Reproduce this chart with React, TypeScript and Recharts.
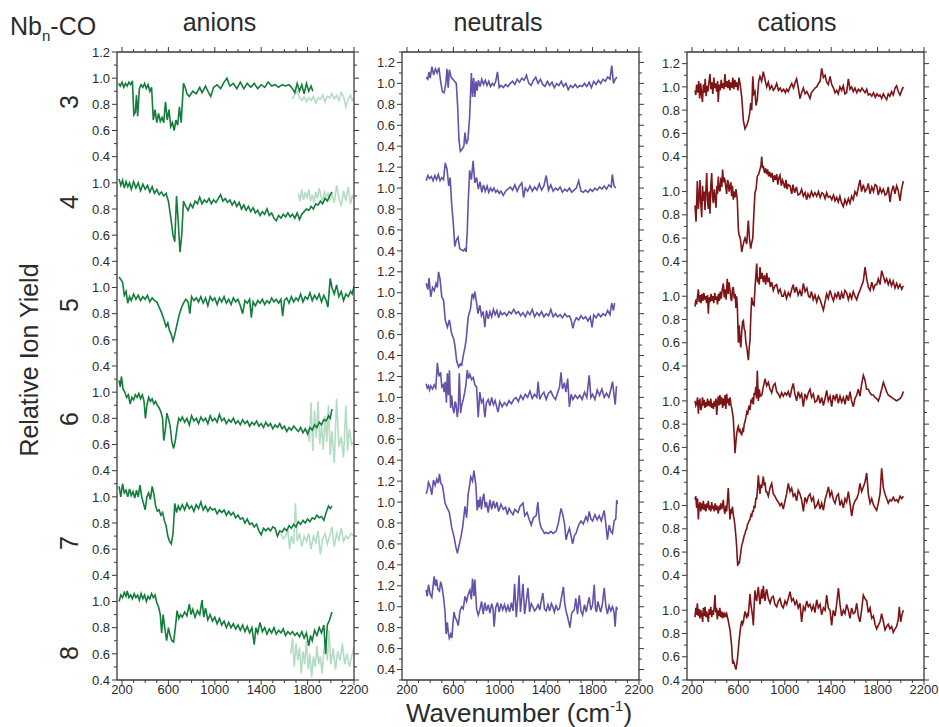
import React from 'react';
import { LineChart, Line, XAxis, YAxis } from 'recharts';

type Pt = [number, number];

// ---- anions (dark = measured, faint = high-wavenumber tail) ----
const anion3: Pt[] = [[170,0.96],[185,0.94],[200,0.97],[215,0.93],[230,0.96],[245,0.94],[260,0.97],[275,0.95],[290,0.98],[302,0.72],[315,0.74],[325,0.87],[335,0.71],[350,0.92],[365,0.95],[380,0.93],[395,0.96],[410,0.92],[425,0.95],[440,0.9],[455,0.93],[470,0.68],[485,0.76],[500,0.66],[515,0.73],[530,0.67],[545,0.7],[560,0.66],[575,0.82],[590,0.68],[605,0.76],[620,0.63],[635,0.66],[650,0.6],[665,0.68],[680,0.64],[695,0.78],[710,0.66],[730,0.96],[745,0.93],[760,0.88],[780,0.86],[810,0.9],[840,0.88],[870,0.93],[890,0.89],[920,0.94],[940,0.9],[965,0.86],[990,0.93],[1020,0.95],[1050,0.92],[1080,0.97],[1105,1.0],[1130,0.94],[1160,0.96],[1190,0.92],[1220,0.97],[1250,0.92],[1280,0.96],[1310,0.93],[1340,0.96],[1370,0.92],[1400,0.95],[1430,0.93],[1460,0.97],[1490,0.94],[1520,0.95],[1550,0.93],[1580,0.95],[1610,0.94],[1640,0.95],[1670,0.92],[1690,0.89],[1710,0.96],[1730,0.9],[1750,0.95],[1770,0.88],[1790,0.96],[1810,0.9],[1830,0.94],[1845,0.9]];
const anion3Faint: Pt[] = [[1670,0.84],[1690,0.88],[1710,0.9],[1730,0.85],[1750,0.83],[1770,0.86],[1790,0.82],[1810,0.85],[1830,0.83],[1850,0.86],[1870,0.81],[1890,0.85],[1910,0.84],[1930,0.87],[1950,0.82],[1970,0.86],[1990,0.85],[2010,0.88],[2030,0.84],[2050,0.87],[2070,0.83],[2090,0.89],[2110,0.86],[2130,0.78],[2150,0.84],[2170,0.87],[2185,0.83],[2200,0.85]];
const anion4: Pt[] = [[175,1.03],[190,0.98],[205,1.02],[220,0.96],[235,1.01],[250,0.97],[265,1.0],[280,0.95],[300,1.01],[320,0.96],[340,1.0],[360,0.94],[380,0.99],[400,0.95],[420,0.98],[440,0.93],[460,0.97],[480,0.92],[500,0.95],[520,0.91],[540,0.93],[560,0.9],[580,0.92],[600,0.86],[620,0.74],[640,0.6],[655,0.55],[670,0.9],[685,0.7],[700,0.47],[715,0.6],[730,0.86],[750,0.82],[770,0.79],[790,0.84],[810,0.81],[830,0.86],[850,0.84],[870,0.89],[890,0.84],[910,0.87],[930,0.85],[950,0.88],[970,0.84],[990,0.87],[1010,0.85],[1030,0.88],[1050,0.91],[1070,0.86],[1090,0.88],[1110,0.85],[1130,0.87],[1150,0.83],[1170,0.86],[1190,0.82],[1210,0.85],[1230,0.8],[1250,0.83],[1270,0.79],[1290,0.82],[1310,0.78],[1330,0.81],[1350,0.77],[1370,0.79],[1390,0.75],[1410,0.78],[1430,0.76],[1450,0.8],[1470,0.75],[1490,0.77],[1510,0.73],[1530,0.71],[1550,0.75],[1570,0.73],[1590,0.76],[1610,0.74],[1630,0.77],[1650,0.74],[1670,0.76],[1690,0.73],[1710,0.77],[1730,0.72],[1750,0.76],[1770,0.78],[1790,0.8],[1810,0.79],[1830,0.82],[1850,0.8],[1870,0.84],[1890,0.83],[1910,0.86],[1930,0.84],[1950,0.88],[1970,0.86],[1990,0.9],[2010,0.93]];
const anion4Faint: Pt[] = [[1720,0.92],[1735,0.86],[1750,0.95],[1765,0.87],[1780,0.93],[1795,0.88],[1810,0.95],[1825,0.86],[1840,0.91],[1855,0.85],[1870,0.93],[1885,0.88],[1900,0.96],[1915,0.9],[1930,0.86],[1945,0.93],[1960,0.89],[1975,0.92],[1990,0.87],[2010,0.91],[2030,0.85],[2050,0.98],[2070,0.88],[2090,0.82],[2110,0.94],[2130,0.86],[2150,0.97],[2170,0.84],[2185,0.9],[2200,0.88]];
const anion5: Pt[] = [[175,1.08],[190,1.06],[205,1.04],[220,0.94],[235,0.97],[250,0.88],[265,0.93],[280,0.9],[300,0.95],[320,0.91],[340,0.94],[360,0.9],[380,0.93],[400,0.91],[420,0.94],[440,0.89],[460,0.92],[480,0.9],[500,0.89],[520,0.85],[540,0.81],[560,0.76],[580,0.7],[595,0.73],[610,0.67],[625,0.64],[640,0.59],[655,0.64],[670,0.7],[690,0.78],[710,0.84],[730,0.88],[750,0.91],[770,0.89],[785,0.8],[800,0.93],[820,0.9],[840,0.92],[860,0.89],[880,0.93],[900,0.88],[920,0.92],[940,0.86],[960,0.93],[980,0.9],[1000,0.92],[1020,0.87],[1040,0.92],[1060,0.89],[1080,0.93],[1100,0.88],[1120,0.91],[1140,0.87],[1160,0.92],[1180,0.89],[1200,0.91],[1220,0.86],[1240,0.8],[1260,0.9],[1280,0.88],[1300,0.91],[1315,0.77],[1330,0.89],[1350,0.86],[1370,0.9],[1390,0.88],[1410,0.91],[1430,0.87],[1450,0.9],[1470,0.88],[1490,0.92],[1510,0.89],[1530,0.91],[1550,0.88],[1570,0.91],[1585,0.78],[1600,0.9],[1620,0.92],[1640,0.88],[1660,0.93],[1680,0.89],[1700,0.92],[1720,0.9],[1740,0.95],[1760,0.89],[1780,0.93],[1800,0.91],[1820,0.96],[1840,0.9],[1860,0.94],[1880,0.91],[1900,0.95],[1920,0.89],[1940,0.94],[1960,0.9],[1975,0.85],[1995,1.07],[2010,1.0],[2030,0.95],[2050,1.02],[2070,0.93],[2090,0.97],[2110,0.9],[2130,0.95],[2150,0.93],[2170,0.97],[2185,0.95],[2200,1.01]];
const anion6: Pt[] = [[175,1.09],[185,1.04],[195,1.12],[210,1.02],[225,1.0],[240,0.96],[255,0.98],[270,0.91],[285,0.96],[300,0.94],[315,0.98],[330,0.96],[345,0.99],[360,0.95],[375,0.98],[390,0.93],[402,0.8],[415,0.9],[430,0.96],[445,0.93],[460,0.95],[475,0.91],[490,0.93],[505,0.9],[520,0.88],[535,0.85],[550,0.8],[560,0.63],[575,0.72],[587,0.84],[600,0.8],[615,0.74],[630,0.62],[645,0.57],[660,0.63],[675,0.73],[690,0.8],[705,0.78],[720,0.81],[740,0.77],[760,0.8],[780,0.75],[800,0.82],[820,0.78],[840,0.8],[860,0.76],[880,0.81],[900,0.78],[920,0.8],[940,0.76],[960,0.82],[980,0.78],[1000,0.8],[1020,0.77],[1040,0.83],[1060,0.78],[1080,0.8],[1100,0.76],[1120,0.79],[1140,0.77],[1160,0.8],[1180,0.76],[1200,0.78],[1220,0.75],[1240,0.79],[1260,0.76],[1280,0.78],[1300,0.74],[1320,0.77],[1340,0.75],[1360,0.78],[1380,0.74],[1400,0.76],[1420,0.73],[1440,0.77],[1460,0.74],[1480,0.76],[1500,0.72],[1520,0.75],[1540,0.73],[1560,0.76],[1580,0.72],[1600,0.74],[1620,0.7],[1640,0.73],[1660,0.71],[1680,0.74],[1700,0.72],[1720,0.7],[1740,0.73],[1760,0.69],[1780,0.72],[1800,0.68],[1820,0.73],[1840,0.71],[1860,0.75],[1880,0.73],[1900,0.77],[1920,0.75],[1940,0.79],[1960,0.78],[1980,0.82],[1995,0.8],[2010,0.87]];
const anion6Faint: Pt[] = [[1800,0.72],[1815,0.62],[1830,0.92],[1845,0.55],[1860,0.86],[1875,0.65],[1890,0.93],[1905,0.6],[1920,0.75],[1935,0.56],[1950,0.82],[1965,0.62],[1980,0.9],[1995,0.52],[2010,0.7],[2030,0.46],[2050,0.95],[2070,0.58],[2090,0.66],[2110,0.5],[2130,0.9],[2145,0.55],[2160,0.72],[2180,0.6],[2200,0.62]];
const anion7: Pt[] = [[175,1.08],[190,1.0],[205,1.1],[220,1.03],[235,1.05],[250,1.0],[265,1.06],[280,1.01],[295,1.04],[310,0.99],[325,1.05],[340,1.0],[355,1.09],[370,1.0],[385,0.95],[400,0.9],[415,1.0],[430,1.03],[445,0.98],[460,1.08],[475,1.02],[490,0.93],[505,0.89],[520,0.9],[535,0.86],[550,0.88],[565,0.82],[580,0.78],[595,0.7],[610,0.66],[625,0.64],[640,0.72],[655,0.95],[670,0.88],[685,0.93],[700,0.9],[720,0.94],[740,0.9],[760,0.95],[780,0.91],[800,0.93],[820,0.89],[840,0.94],[860,0.91],[880,0.96],[900,0.9],[920,0.93],[940,0.89],[960,0.92],[980,0.9],[1000,0.91],[1020,0.87],[1040,0.9],[1060,0.88],[1080,0.9],[1100,0.86],[1120,0.89],[1140,0.86],[1160,0.88],[1180,0.84],[1200,0.86],[1220,0.83],[1240,0.84],[1260,0.8],[1280,0.83],[1300,0.79],[1320,0.8],[1340,0.77],[1360,0.79],[1380,0.74],[1400,0.71],[1420,0.76],[1440,0.74],[1460,0.76],[1480,0.74],[1500,0.77],[1520,0.76],[1540,0.7],[1560,0.74],[1580,0.73],[1600,0.76],[1620,0.74],[1640,0.78],[1660,0.76],[1680,0.79],[1700,0.77],[1720,0.81],[1740,0.79],[1760,0.82],[1780,0.8],[1800,0.83],[1820,0.81],[1840,0.84],[1860,0.83],[1880,0.86],[1900,0.84],[1920,0.85],[1940,0.82],[1960,0.88],[1980,0.93],[1995,0.91],[2010,0.93]];
const anion7Faint: Pt[] = [[1570,0.72],[1590,0.68],[1610,0.7],[1630,0.74],[1645,0.6],[1660,0.7],[1680,0.64],[1695,0.95],[1710,0.66],[1730,0.72],[1750,0.62],[1770,0.7],[1790,0.66],[1810,0.72],[1830,0.6],[1850,0.7],[1870,0.65],[1890,0.74],[1910,0.56],[1930,0.68],[1950,0.72],[1970,0.64],[1990,0.7],[2010,0.77],[2030,0.62],[2050,0.72],[2070,0.67],[2090,0.76],[2110,0.66],[2130,0.7],[2150,0.68],[2175,0.72],[2200,0.7]];
const anion8: Pt[] = [[175,1.0],[190,1.05],[205,1.03],[220,1.07],[235,1.04],[245,1.08],[260,1.03],[275,1.05],[290,1.02],[305,1.06],[320,1.03],[335,1.05],[350,1.01],[365,1.06],[380,1.02],[395,1.05],[410,1.0],[425,1.04],[440,1.02],[455,1.06],[470,1.03],[485,1.05],[500,0.99],[515,0.96],[530,0.9],[542,0.76],[555,0.9],[570,0.79],[585,0.7],[600,0.8],[615,0.74],[630,0.7],[645,0.69],[660,0.8],[675,0.93],[690,0.87],[705,0.9],[720,0.88],[740,0.92],[760,0.89],[780,0.98],[795,0.9],[810,0.94],[830,0.88],[850,0.93],[870,0.9],[890,1.01],[905,0.88],[920,0.95],[940,0.86],[960,0.9],[980,0.85],[1000,0.88],[1020,0.83],[1040,0.87],[1060,0.82],[1080,0.85],[1100,0.8],[1120,0.84],[1140,0.8],[1160,0.83],[1180,0.79],[1200,0.82],[1220,0.78],[1240,0.82],[1260,0.77],[1280,0.81],[1300,0.76],[1320,0.8],[1340,0.67],[1355,0.8],[1370,0.76],[1390,0.84],[1410,0.77],[1430,0.8],[1450,0.75],[1470,0.79],[1490,0.76],[1510,0.8],[1530,0.75],[1550,0.78],[1570,0.76],[1590,0.79],[1610,0.74],[1630,0.77],[1650,0.75],[1670,0.77],[1690,0.74],[1710,0.76],[1730,0.73],[1750,0.77],[1770,0.72],[1790,0.76],[1810,0.66],[1825,0.74],[1840,0.7],[1860,0.78],[1880,0.74],[1900,0.8],[1920,0.76],[1940,0.82],[1955,0.6],[1970,0.82],[1990,0.86],[2010,0.92]];
const anion8Faint: Pt[] = [[1655,0.6],[1670,0.72],[1685,0.5],[1700,0.68],[1715,0.55],[1730,0.65],[1745,0.45],[1760,0.62],[1775,0.52],[1790,0.7],[1805,0.48],[1820,0.6],[1835,0.42],[1850,0.58],[1865,0.5],[1880,0.66],[1895,0.52],[1910,0.58],[1925,0.45],[1940,0.62],[1955,0.7],[1970,0.55],[1985,0.78],[2000,0.52],[2020,0.64],[2040,0.48],[2060,0.62],[2080,0.55],[2100,0.68],[2120,0.52],[2140,0.6],[2160,0.5],[2180,0.58],[2200,0.65]];

// ---- neutrals ----
const neutral3: Pt[] = [[365,1.06],[380,1.04],[390,1.11],[400,1.05],[415,1.16],[430,1.08],[445,1.14],[460,1.1],[475,1.15],[490,1.02],[505,0.92],[520,0.91],[535,1.0],[545,1.14],[555,0.96],[565,1.13],[580,1.06],[595,1.04],[610,1.02],[625,1.0],[637,0.78],[648,0.46],[660,0.35],[675,0.37],[690,0.4],[700,0.53],[712,0.42],[725,0.46],[740,0.68],[755,1.1],[765,0.87],[775,1.05],[785,0.87],[795,1.02],[805,0.93],[815,1.03],[830,0.97],[845,1.04],[860,0.99],[875,1.03],[890,0.98],[905,1.02],[920,0.97],[935,1.0],[950,0.98],[965,1.02],[980,1.11],[995,0.96],[1010,0.98],[1030,0.96],[1050,0.99],[1070,0.97],[1090,1.0],[1110,1.02],[1130,0.99],[1150,1.04],[1170,1.01],[1190,1.05],[1210,1.03],[1230,1.08],[1250,1.0],[1270,0.98],[1290,1.03],[1310,1.06],[1330,1.0],[1350,1.04],[1370,0.99],[1390,0.97],[1410,1.02],[1430,0.98],[1450,1.01],[1470,0.96],[1490,1.0],[1510,0.98],[1530,1.02],[1550,0.97],[1570,1.0],[1590,0.94],[1610,0.98],[1630,0.96],[1650,0.99],[1670,0.96],[1690,0.98],[1710,0.97],[1730,1.0],[1750,0.97],[1770,1.01],[1790,0.96],[1810,1.02],[1830,0.99],[1850,1.03],[1870,1.0],[1890,1.04],[1910,1.02],[1930,1.06],[1950,1.04],[1965,1.17],[1980,1.0],[1995,1.04],[2010,1.06]];
const neutral4: Pt[] = [[365,1.07],[380,1.12],[395,1.09],[410,1.11],[425,1.07],[440,1.12],[455,1.08],[470,1.13],[485,1.07],[500,1.1],[515,1.08],[530,1.24],[545,1.18],[560,1.02],[572,1.1],[585,0.85],[600,0.65],[612,0.44],[625,0.5],[640,0.53],[655,0.42],[670,0.41],[685,0.4],[700,0.42],[710,0.39],[720,0.6],[728,0.87],[740,1.17],[755,1.08],[770,1.26],[785,1.05],[800,1.1],[815,0.99],[830,1.06],[845,0.96],[860,1.03],[875,0.97],[890,1.02],[905,0.96],[920,1.0],[935,0.97],[950,1.0],[965,0.96],[980,0.98],[995,0.95],[1010,0.97],[1030,0.93],[1050,0.97],[1070,0.99],[1090,1.01],[1110,0.98],[1130,1.03],[1150,0.97],[1170,1.02],[1190,1.05],[1205,0.91],[1220,1.0],[1240,0.97],[1260,1.02],[1280,0.97],[1300,1.01],[1320,0.98],[1340,1.04],[1360,0.98],[1380,1.02],[1400,1.12],[1420,0.98],[1440,1.03],[1460,0.97],[1480,1.0],[1500,0.98],[1520,1.01],[1540,0.96],[1560,0.99],[1580,0.97],[1600,1.0],[1620,0.96],[1640,0.98],[1660,1.0],[1680,1.07],[1700,0.97],[1720,0.96],[1740,0.98],[1760,0.96],[1780,0.99],[1800,0.97],[1820,1.0],[1840,0.98],[1860,1.01],[1880,0.99],[1900,1.02],[1920,0.99],[1940,1.03],[1960,1.01],[1970,1.13],[1985,1.02],[2000,1.0]];
const neutral5: Pt[] = [[365,1.09],[380,1.03],[390,1.14],[405,0.96],[420,1.05],[435,1.02],[450,1.09],[462,1.05],[472,1.2],[485,1.13],[500,0.96],[515,0.93],[530,0.74],[548,0.67],[565,0.74],[585,0.61],[605,0.55],[615,0.48],[628,0.35],[645,0.29],[660,0.32],[672,0.31],[685,0.4],[700,0.48],[710,0.55],[728,0.77],[748,0.85],[762,0.99],[775,0.95],[785,1.01],[800,0.9],[812,0.8],[828,0.88],[842,0.78],[857,0.82],[871,0.67],[885,0.83],[900,0.75],[915,0.82],[930,0.77],[945,0.84],[960,0.79],[975,0.83],[990,0.76],[1005,0.82],[1020,0.79],[1040,0.81],[1060,0.78],[1080,0.82],[1100,0.8],[1120,0.84],[1140,0.8],[1160,0.82],[1180,0.78],[1200,0.81],[1220,0.77],[1240,0.82],[1260,0.79],[1280,0.84],[1300,0.77],[1320,0.81],[1340,0.78],[1360,0.82],[1380,0.77],[1400,0.8],[1420,0.78],[1440,0.84],[1460,0.77],[1480,0.8],[1500,0.77],[1520,0.79],[1540,0.76],[1560,0.8],[1580,0.77],[1600,0.78],[1615,0.74],[1630,0.66],[1645,0.73],[1660,0.76],[1680,0.74],[1700,0.78],[1720,0.75],[1740,0.77],[1760,0.73],[1780,0.77],[1795,0.67],[1810,0.79],[1830,0.76],[1850,0.8],[1870,0.77],[1890,0.8],[1910,0.78],[1930,0.83],[1950,0.79],[1965,0.9],[1980,0.83],[1990,0.9]];
const neutral6: Pt[] = [[365,1.13],[375,1.09],[385,1.11],[395,1.07],[405,1.11],[420,1.08],[435,1.12],[448,1.09],[462,1.33],[475,1.2],[490,1.24],[500,1.1],[512,1.12],[520,1.05],[530,1.15],[540,0.95],[548,1.23],[558,1.02],[566,1.26],[576,0.9],[585,1.02],[595,0.9],[605,0.85],[615,0.96],[622,0.94],[634,0.81],[642,0.9],[651,1.23],[662,0.85],[671,0.92],[685,0.98],[698,1.05],[708,1.12],[720,1.26],[730,1.18],[742,1.22],[757,1.17],[771,1.19],[785,1.12],[800,1.1],[814,0.81],[828,1.05],[842,0.95],[857,0.98],[871,0.81],[885,0.95],[900,0.98],[915,0.92],[930,1.0],[945,0.93],[960,0.97],[975,0.9],[985,0.86],[1000,0.96],[1020,0.91],[1040,0.95],[1060,0.92],[1080,0.97],[1100,0.94],[1120,0.98],[1140,1.0],[1160,0.96],[1180,1.02],[1200,0.98],[1220,1.03],[1240,1.0],[1260,1.06],[1280,0.99],[1300,1.03],[1320,1.0],[1330,1.15],[1345,0.98],[1360,1.02],[1380,1.05],[1400,0.98],[1420,1.04],[1440,1.06],[1460,1.01],[1480,0.98],[1500,1.05],[1515,1.1],[1528,1.24],[1540,1.08],[1557,1.14],[1570,1.05],[1585,1.18],[1600,0.91],[1615,1.03],[1630,0.98],[1650,1.02],[1670,0.99],[1690,1.02],[1710,0.98],[1730,1.05],[1750,1.0],[1771,1.21],[1785,1.0],[1800,1.03],[1820,0.98],[1840,1.07],[1860,1.02],[1880,1.08],[1900,1.0],[1920,1.04],[1940,1.0],[1960,1.09],[1972,1.15],[1985,1.02],[1995,0.93],[2005,1.1],[2014,1.1]];
const neutral7: Pt[] = [[365,1.08],[375,1.11],[385,1.19],[400,1.15],[414,1.07],[428,1.21],[442,1.16],[457,1.22],[470,1.18],[480,1.27],[491,1.18],[505,1.16],[514,1.1],[528,0.99],[548,0.94],[565,0.9],[585,0.76],[605,0.67],[622,0.57],[634,0.51],[648,0.58],[662,0.65],[680,0.76],[700,0.96],[714,0.85],[728,1.08],[740,1.16],[750,1.24],[765,1.2],[777,1.3],[794,1.16],[805,0.92],[815,1.02],[822,0.95],[832,1.05],[842,0.93],[852,1.02],[862,1.08],[875,0.95],[885,1.0],[900,0.9],[915,1.02],[930,0.93],[945,1.01],[960,0.94],[975,1.0],[990,0.91],[1010,0.98],[1030,0.93],[1050,0.95],[1065,0.88],[1080,0.94],[1100,0.9],[1114,0.88],[1130,0.93],[1157,0.9],[1175,0.96],[1200,0.99],[1215,0.87],[1235,0.9],[1255,0.83],[1271,0.78],[1290,0.85],[1314,0.87],[1328,1.0],[1342,0.82],[1357,0.75],[1372,0.73],[1385,0.7],[1400,0.71],[1420,0.7],[1440,0.72],[1460,0.7],[1485,0.72],[1505,0.8],[1528,0.94],[1543,0.88],[1557,0.8],[1571,0.64],[1585,0.7],[1600,0.75],[1614,0.68],[1628,0.6],[1643,0.68],[1657,0.7],[1680,0.78],[1700,0.82],[1720,0.79],[1742,0.86],[1757,0.82],[1771,0.91],[1785,0.84],[1800,0.82],[1820,0.88],[1840,0.83],[1857,0.87],[1875,0.82],[1900,0.92],[1915,0.78],[1928,0.64],[1943,0.78],[1957,0.72],[1971,0.7],[1986,0.82],[2000,0.84],[2008,1.02],[2014,0.98]];
const neutral8: Pt[] = [[365,1.16],[375,1.1],[385,1.21],[400,1.12],[414,1.09],[425,1.2],[434,1.29],[445,1.2],[455,1.26],[465,1.17],[480,1.15],[490,1.24],[500,1.2],[514,1.1],[528,0.95],[537,0.74],[548,0.85],[556,0.75],[565,0.7],[577,0.74],[587,0.7],[594,0.81],[605,0.95],[615,0.9],[628,0.87],[642,0.82],[657,0.96],[671,1.0],[685,0.98],[700,1.1],[714,1.05],[728,1.12],[742,1.16],[755,1.07],[765,1.27],[777,1.1],[785,1.26],[800,0.98],[814,0.92],[828,0.97],[843,1.05],[857,0.93],[871,1.04],[885,0.96],[900,1.02],[915,0.94],[930,1.03],[942,0.98],[951,0.81],[965,0.99],[980,1.04],[995,0.95],[1010,1.03],[1025,0.97],[1040,1.02],[1055,0.96],[1070,1.01],[1085,0.95],[1100,1.04],[1114,0.96],[1128,1.22],[1142,0.9],[1155,1.08],[1166,1.3],[1178,0.95],[1190,1.1],[1200,1.22],[1214,0.93],[1228,1.05],[1243,1.18],[1257,0.95],[1271,1.03],[1285,1.0],[1300,0.96],[1314,0.98],[1330,1.02],[1345,0.97],[1357,1.05],[1371,1.13],[1385,0.98],[1400,0.96],[1415,1.02],[1430,0.96],[1445,1.03],[1457,1.0],[1470,0.95],[1485,1.01],[1500,0.97],[1514,0.98],[1530,1.08],[1548,1.19],[1560,1.03],[1571,0.96],[1585,0.9],[1605,0.8],[1620,0.94],[1642,0.97],[1655,1.08],[1670,0.93],[1685,1.11],[1700,0.96],[1714,0.92],[1730,1.02],[1745,0.95],[1760,1.04],[1771,1.09],[1785,0.97],[1800,1.02],[1814,1.21],[1825,0.98],[1834,0.95],[1845,1.05],[1857,1.0],[1870,0.95],[1885,1.03],[1900,1.18],[1915,1.0],[1928,0.93],[1942,1.01],[1957,0.96],[1971,1.0],[1985,0.95],[1994,0.81],[2005,1.0],[2014,0.97]];

// ---- cations ----
const cation3: Pt[] = [[226,0.97],[233,0.93],[240,1.02],[250,0.95],[258,1.05],[266,0.9],[275,1.03],[283,0.93],[290,0.87],[298,1.02],[306,0.95],[314,1.07],[322,0.92],[330,1.01],[338,0.96],[346,1.04],[355,1.11],[363,0.98],[371,1.04],[380,0.94],[388,1.08],[396,0.99],[404,1.03],[413,0.96],[421,1.05],[426,0.87],[435,1.02],[443,0.97],[452,1.06],[460,0.99],[468,1.03],[476,0.98],[484,1.11],[493,1.0],[501,1.05],[510,0.99],[518,1.06],[527,0.97],[535,1.04],[544,0.99],[552,1.08],[561,0.98],[570,1.06],[578,1.0],[587,1.04],[596,0.97],[605,1.08],[614,1.03],[629,0.91],[643,0.71],[657,0.64],[672,0.67],[686,0.71],[698,0.78],[706,0.86],[715,0.8],[724,1.09],[733,0.94],[743,0.96],[752,0.84],[763,0.89],[775,1.05],[786,1.09],[800,1.05],[815,1.13],[830,1.06],[844,1.0],[858,1.04],[872,0.98],[887,1.01],[901,0.97],[915,0.99],[930,1.03],[945,0.97],[960,0.99],[975,0.96],[990,0.98],[1005,0.95],[1016,0.98],[1030,0.96],[1045,1.0],[1060,1.03],[1075,0.99],[1090,1.04],[1102,1.07],[1115,1.0],[1131,0.9],[1145,0.95],[1160,0.99],[1175,0.94],[1190,0.96],[1205,0.93],[1217,0.9],[1230,0.95],[1245,0.97],[1260,0.99],[1275,1.0],[1290,1.03],[1305,1.05],[1318,1.16],[1333,1.08],[1347,1.1],[1361,1.04],[1375,1.02],[1390,1.09],[1405,1.02],[1420,0.99],[1433,0.95],[1447,0.97],[1461,0.94],[1475,1.0],[1490,0.97],[1504,1.01],[1518,0.94],[1533,0.95],[1548,1.07],[1562,0.98],[1576,1.0],[1590,0.96],[1605,0.99],[1620,0.95],[1635,0.98],[1650,0.96],[1665,0.99],[1677,0.97],[1692,0.95],[1706,0.98],[1720,0.93],[1735,0.94],[1750,0.92],[1765,0.95],[1780,0.91],[1795,0.94],[1810,0.92],[1821,0.93],[1835,0.9],[1850,0.94],[1865,0.91],[1878,0.89],[1892,0.94],[1906,0.92],[1920,0.96],[1935,0.93],[1950,0.99],[1964,1.01],[1978,0.96],[1993,0.93],[2008,0.97],[2022,1.0]];
const cation4: Pt[] = [[226,0.88],[235,0.74],[246,1.09],[255,0.85],[262,0.95],[269,1.1],[276,0.9],[284,0.78],[291,1.05],[298,0.92],[305,1.0],[312,0.84],[320,1.02],[327,1.16],[334,0.92],[341,0.85],[348,1.0],[355,0.81],[362,1.05],[370,1.16],[377,0.95],[384,0.9],[392,1.02],[400,0.94],[407,0.86],[414,1.05],[420,0.98],[427,1.13],[434,1.02],[441,1.0],[450,1.12],[457,1.04],[464,1.19],[471,1.08],[478,1.12],[484,1.1],[491,1.04],[499,0.98],[506,1.1],[513,1.08],[520,1.0],[528,1.04],[535,1.08],[542,0.96],[549,1.05],[556,0.93],[563,1.0],[571,0.95],[579,1.02],[586,0.97],[591,0.92],[600,0.67],[607,0.62],[614,0.61],[621,0.56],[629,0.48],[636,0.52],[643,0.55],[650,0.58],[657,0.6],[665,0.57],[672,0.55],[680,0.68],[686,0.75],[695,0.6],[706,0.51],[715,0.56],[724,0.6],[733,0.8],[743,0.99],[752,1.02],[763,1.13],[775,1.15],[786,1.19],[794,1.22],[801,1.3],[808,1.2],[815,1.22],[825,1.16],[835,1.2],[844,1.15],[852,1.19],[860,1.13],[870,1.17],[880,1.12],[890,1.16],[901,1.08],[910,1.14],[920,1.1],[930,1.15],[940,1.06],[950,1.12],[959,1.14],[970,1.05],[980,1.1],[987,1.08],[1000,1.03],[1010,1.1],[1020,1.02],[1030,1.06],[1045,1.05],[1060,0.98],[1070,1.06],[1085,0.99],[1100,1.04],[1115,0.97],[1131,0.98],[1145,1.02],[1160,0.96],[1175,0.99],[1189,0.93],[1200,0.98],[1215,0.95],[1230,1.0],[1245,0.96],[1260,0.99],[1275,0.96],[1290,1.0],[1305,0.95],[1320,0.99],[1333,0.98],[1347,0.94],[1361,0.99],[1375,0.95],[1390,0.96],[1405,0.93],[1420,0.97],[1433,0.92],[1447,0.95],[1461,0.91],[1475,0.96],[1490,0.9],[1505,0.87],[1518,0.93],[1533,0.89],[1548,0.94],[1562,0.9],[1576,0.96],[1590,0.93],[1605,1.0],[1620,0.97],[1635,1.04],[1648,1.1],[1662,1.0],[1677,1.06],[1692,1.0],[1706,1.02],[1720,1.07],[1735,0.98],[1750,1.04],[1765,1.0],[1778,1.06],[1792,1.05],[1806,0.97],[1821,1.03],[1835,0.99],[1850,1.02],[1865,0.97],[1878,0.98],[1892,1.04],[1907,0.91],[1920,1.0],[1935,1.05],[1950,0.98],[1964,1.05],[1978,1.01],[1993,0.92],[2008,1.03],[2022,1.09]];
const cation5: Pt[] = [[226,0.91],[233,0.97],[240,0.93],[248,1.0],[255,1.06],[262,0.95],[270,1.01],[278,0.94],[286,1.02],[294,0.96],[302,1.03],[310,0.97],[318,1.0],[326,0.94],[334,1.01],[341,0.85],[348,0.99],[356,0.95],[364,1.02],[372,0.96],[380,1.0],[388,0.94],[396,1.03],[404,0.97],[412,1.0],[420,0.93],[428,1.02],[436,0.96],[444,1.04],[452,0.98],[460,1.05],[470,1.11],[478,0.99],[486,1.06],[494,0.97],[504,1.15],[512,1.02],[520,1.12],[528,1.05],[535,0.98],[542,0.96],[549,1.06],[556,1.08],[564,0.98],[572,1.02],[579,0.9],[585,1.0],[591,0.91],[600,0.6],[607,0.75],[614,0.62],[621,0.56],[629,0.7],[636,0.78],[643,0.79],[650,0.72],[657,0.7],[665,0.6],[672,0.56],[680,0.5],[686,0.45],[693,0.55],[700,0.62],[708,0.85],[715,0.99],[725,0.93],[735,0.92],[745,1.1],[758,1.28],[765,1.12],[772,1.16],[780,1.1],[786,1.25],[795,1.15],[805,1.2],[815,1.12],[825,1.18],[835,1.1],[844,1.2],[855,1.12],[865,1.16],[875,1.08],[887,1.12],[901,1.05],[915,1.09],[930,1.1],[945,1.03],[960,1.06],[975,1.0],[987,1.0],[1000,1.04],[1015,0.98],[1030,1.03],[1045,1.0],[1060,1.06],[1073,1.1],[1085,1.03],[1100,1.08],[1115,1.01],[1130,1.05],[1145,1.0],[1160,1.11],[1175,1.04],[1190,1.07],[1205,1.0],[1217,0.99],[1230,1.04],[1245,0.97],[1260,1.01],[1275,0.95],[1290,1.0],[1305,0.97],[1320,0.92],[1333,0.88],[1347,0.95],[1361,1.02],[1375,0.98],[1390,1.05],[1405,1.0],[1420,0.96],[1433,1.02],[1447,0.99],[1461,1.04],[1475,0.97],[1490,1.03],[1504,0.98],[1518,1.05],[1533,1.03],[1548,0.97],[1562,1.02],[1576,0.98],[1590,1.04],[1605,1.0],[1620,0.97],[1635,1.02],[1648,1.05],[1662,1.09],[1677,1.13],[1692,1.25],[1706,1.15],[1720,1.08],[1735,1.05],[1750,1.12],[1765,1.06],[1780,1.1],[1792,1.1],[1806,1.15],[1821,1.1],[1835,1.22],[1850,1.17],[1865,1.12],[1878,1.15],[1892,1.1],[1906,1.14],[1920,1.09],[1935,1.13],[1950,1.07],[1964,1.11],[1978,1.07],[1993,1.1],[2008,1.06],[2022,1.09]];
const cation6: Pt[] = [[226,1.0],[233,0.96],[241,0.98],[248,1.03],[255,0.89],[262,1.0],[269,1.01],[276,0.92],[284,0.95],[291,1.03],[298,0.96],[305,1.01],[312,0.94],[320,0.99],[327,0.95],[334,1.02],[341,0.96],[348,1.0],[355,0.95],[362,1.02],[370,0.94],[377,0.98],[384,0.93],[392,1.0],[400,0.95],[407,1.02],[413,0.88],[420,0.98],[427,1.04],[434,0.96],[441,1.05],[448,0.97],[456,1.03],[464,0.94],[471,1.02],[478,0.96],[485,1.05],[492,0.93],[499,1.06],[506,0.98],[513,1.02],[520,0.96],[528,1.03],[535,0.97],[542,0.94],[549,0.9],[556,0.85],[564,0.7],[571,0.55],[579,0.65],[586,0.72],[593,0.76],[600,0.78],[607,0.74],[614,0.75],[621,0.72],[629,0.71],[636,0.75],[643,0.73],[650,0.8],[657,0.82],[665,0.86],[672,0.9],[679,0.88],[686,0.93],[693,0.96],[700,0.92],[708,1.0],[715,0.99],[722,1.03],[729,0.97],[736,1.07],[743,1.05],[750,1.12],[756,1.02],[763,1.26],[772,1.0],[780,1.1],[788,1.04],[801,1.05],[815,1.12],[830,1.19],[844,1.13],[858,1.16],[873,1.1],[887,1.07],[901,1.13],[916,1.15],[930,1.08],[945,1.06],[959,1.03],[973,1.07],[987,1.04],[1002,1.07],[1016,1.05],[1030,1.08],[1045,1.03],[1059,1.1],[1073,1.15],[1087,1.06],[1102,1.0],[1116,1.08],[1131,1.03],[1145,1.06],[1160,0.95],[1174,1.06],[1189,1.02],[1203,1.07],[1217,1.1],[1231,1.03],[1246,1.06],[1260,0.99],[1275,1.0],[1289,1.05],[1304,0.98],[1318,1.03],[1333,0.96],[1347,1.02],[1361,1.09],[1375,1.0],[1390,1.04],[1404,0.95],[1418,1.05],[1433,1.01],[1447,1.06],[1461,0.98],[1476,1.04],[1490,0.99],[1505,1.03],[1519,0.97],[1533,1.05],[1548,1.0],[1562,1.08],[1576,1.0],[1591,0.95],[1605,1.02],[1620,1.05],[1634,1.1],[1648,1.04],[1662,1.14],[1677,1.22],[1691,1.18],[1705,1.1],[1720,1.1],[1734,1.07],[1749,1.05],[1763,1.05],[1777,1.03],[1792,1.02],[1806,1.0],[1820,1.04],[1835,1.1],[1850,1.16],[1864,1.12],[1878,1.08],[1892,1.05],[1907,1.04],[1921,1.03],[1935,1.02],[1950,1.01],[1964,1.0],[1978,1.01],[1993,1.02],[2008,1.04],[2022,1.08]];
const cation7: Pt[] = [[226,1.05],[233,1.08],[240,0.98],[248,1.06],[255,0.88],[262,1.0],[269,1.03],[276,0.95],[284,1.02],[291,0.97],[298,1.04],[305,0.96],[312,1.01],[320,0.95],[327,1.02],[334,0.98],[341,1.04],[348,0.96],[355,1.0],[362,0.95],[370,1.03],[377,0.97],[384,1.0],[392,0.95],[400,1.02],[407,0.96],[413,1.0],[420,0.97],[427,0.93],[434,1.0],[441,0.96],[448,1.02],[456,0.97],[463,1.0],[470,1.05],[477,0.96],[484,0.93],[492,1.0],[499,0.95],[506,1.05],[513,1.15],[520,1.0],[528,0.88],[535,0.97],[542,0.95],[549,0.99],[556,0.92],[564,0.88],[571,0.82],[578,0.74],[585,0.65],[590,0.55],[594,0.48],[600,0.52],[607,0.5],[614,0.55],[620,0.59],[629,0.66],[636,0.68],[643,0.71],[650,0.74],[657,0.76],[665,0.79],[672,0.8],[679,0.84],[686,0.85],[693,0.87],[700,0.88],[708,0.92],[715,0.91],[722,0.95],[729,0.95],[736,1.0],[743,0.98],[750,1.06],[758,1.06],[765,1.15],[772,1.26],[780,1.16],[786,1.1],[792,1.18],[800,1.15],[808,1.2],[815,1.25],[823,1.17],[830,1.2],[837,1.12],[844,1.12],[858,1.08],[872,1.15],[887,1.19],[901,1.1],[915,1.08],[930,1.05],[945,1.03],[959,1.0],[973,1.02],[987,0.97],[1002,1.04],[1016,1.1],[1030,1.19],[1045,1.12],[1059,1.15],[1073,1.08],[1087,1.1],[1102,1.04],[1116,1.13],[1131,1.1],[1145,1.05],[1160,0.95],[1174,1.07],[1189,1.03],[1203,1.08],[1217,1.1],[1231,1.04],[1246,1.07],[1260,0.98],[1275,1.0],[1289,1.04],[1304,0.97],[1318,1.02],[1333,0.96],[1347,1.05],[1361,1.1],[1376,1.16],[1390,1.08],[1404,1.12],[1419,1.05],[1433,1.02],[1447,1.08],[1462,1.1],[1476,1.0],[1490,1.04],[1505,0.98],[1519,1.06],[1533,1.03],[1548,1.12],[1562,1.02],[1577,0.91],[1591,1.0],[1605,1.04],[1620,1.06],[1634,1.1],[1648,1.19],[1662,1.12],[1677,1.16],[1691,1.2],[1706,1.28],[1720,1.1],[1735,1.02],[1749,1.06],[1763,1.01],[1778,0.98],[1792,0.96],[1806,1.02],[1821,1.1],[1835,1.32],[1850,1.15],[1864,1.1],[1878,1.06],[1892,1.02],[1907,1.05],[1921,1.04],[1935,1.07],[1950,1.04],[1964,1.05],[1978,1.03],[1993,1.08],[2008,1.06],[2022,1.08]];
const cation8: Pt[] = [[226,0.94],[233,1.02],[240,0.96],[246,1.06],[255,0.95],[262,1.01],[269,0.93],[276,1.0],[284,0.96],[292,0.9],[298,1.02],[305,0.95],[312,1.03],[320,0.94],[327,0.99],[334,0.95],[341,0.9],[348,1.01],[355,0.96],[362,1.03],[370,0.94],[377,1.0],[384,0.96],[391,1.02],[398,1.13],[405,0.98],[412,1.02],[418,0.92],[425,1.0],[432,0.95],[440,1.02],[448,0.94],[456,0.99],[463,0.93],[470,0.98],[477,0.94],[484,0.97],[492,0.95],[499,0.97],[506,0.94],[513,0.91],[520,0.87],[528,0.83],[535,0.76],[542,0.69],[547,0.6],[551,0.54],[557,0.56],[562,0.55],[570,0.52],[579,0.49],[585,0.53],[591,0.57],[600,0.67],[607,0.75],[614,0.81],[621,0.87],[629,0.91],[636,0.88],[643,0.9],[650,0.95],[657,0.99],[665,0.96],[672,0.93],[679,0.97],[686,0.96],[693,1.05],[700,1.14],[708,1.05],[715,1.0],[722,0.95],[729,0.87],[736,1.05],[743,1.17],[750,1.1],[758,1.08],[765,1.15],[772,1.2],[779,1.12],[786,1.05],[794,1.12],[801,1.18],[808,1.1],[815,1.21],[823,1.12],[830,1.08],[837,1.15],[844,1.18],[858,1.1],[873,1.06],[887,1.11],[901,1.12],[915,1.05],[930,1.03],[945,1.08],[959,1.1],[973,1.04],[987,1.02],[1002,1.08],[1016,1.05],[1030,1.1],[1045,1.16],[1059,1.08],[1073,1.1],[1088,1.05],[1102,1.08],[1116,1.02],[1131,1.06],[1145,0.9],[1160,1.03],[1174,1.0],[1189,1.08],[1203,1.03],[1217,1.05],[1232,1.0],[1246,1.04],[1260,0.98],[1275,1.09],[1289,1.02],[1304,1.05],[1318,0.96],[1333,1.02],[1347,1.0],[1361,1.13],[1375,1.02],[1390,1.0],[1404,0.87],[1418,1.0],[1433,0.95],[1447,1.05],[1462,1.19],[1476,1.05],[1490,0.95],[1505,1.0],[1519,0.97],[1533,1.05],[1548,1.0],[1562,0.93],[1576,1.02],[1591,0.97],[1605,0.98],[1620,1.06],[1634,0.95],[1648,0.9],[1662,1.0],[1677,1.13],[1691,1.1],[1706,1.08],[1720,0.98],[1735,1.02],[1749,0.93],[1764,0.95],[1778,0.88],[1792,0.84],[1806,0.87],[1821,0.9],[1835,0.97],[1850,0.9],[1864,0.83],[1878,0.86],[1892,0.88],[1906,0.84],[1921,0.86],[1935,0.81],[1950,0.84],[1964,0.86],[1978,0.92],[1987,1.03],[1999,0.9],[2010,0.96],[2022,1.0]];

const clusterSizes = ['3', '4', '5', '6', '7', '8'];
const xTicks = [200, 300, 400, 500, 600, 700, 800, 900, 1000, 1100, 1200, 1300, 1400, 1500, 1600, 1700, 1800, 1900, 2000, 2100, 2200];
const xLabels = [200, 600, 1000, 1400, 1800, 2200];

const axisColor = '#3a3a3a';
const textColor = '#2b2b2b';
const font = '"Liberation Sans", Arial, Helvetica, sans-serif';

// box geometry (all three panels share the same height)
const BOX_W = 237;
const BOX_H = 628;
const BOX_TOP = 52;
const Y_AXIS_W = 50;
const PAD = 24; // room around the box for outer ticks and end labels

interface Panel {
  id: string;
  left: number;
  offset: number; // vertical shift between stacked spectra
  yMin: number;
  yMax: number;
  topLabels: number[]; // tick labels (x10) on the first block
  labels: number[]; // tick labels (x10) on the other blocks
  color: string;
  series: Pt[][];
  faint?: (Pt[] | null)[];
}

const panels: Panel[] = [
  {
    id: 'anions', left: 117, offset: 0.8, yMin: -3.6, yMax: 1.2,
    topLabels: [12, 10, 8, 6, 4], labels: [10, 8, 6, 4], color: '#137d3b',
    series: [anion3, anion4, anion5, anion6, anion7, anion8],
    faint: [anion3Faint, anion4Faint, null, anion6Faint, anion7Faint, anion8Faint],
  },
  {
    id: 'neutrals', left: 402, offset: 1.0, yMin: -4.7, yMax: 1.3,
    topLabels: [12, 10, 8, 6, 4], labels: [12, 10, 8, 6, 4], color: '#6552a8',
    series: [neutral3, neutral4, neutral5, neutral6, neutral7, neutral8],
  },
  {
    id: 'cations', left: 687, offset: 0.9, yMin: -4.1, yMax: 1.3,
    topLabels: [12, 10, 8, 6, 4], labels: [10, 8, 6, 4], color: '#7d1416',
    series: [cation3, cation4, cation5, cation6, cation7, cation8],
  },
];

const shift = (pts: Pt[], k: number, offset: number) =>
  pts.map(([x, v]) => ({ x, y: Math.round((v - offset * k) * 1000) / 1000 }));

const yTicksFor = (p: Panel) => {
  const t: number[] = [];
  for (let i = Math.round(p.yMax * 10); i >= Math.round(p.yMin * 10); i--) t.push(i / 10);
  return t;
};

const yLabelFor = (p: Panel, y: number): string | null => {
  for (let k = 0; k < p.series.length; k++) {
    const v = Math.round((y + p.offset * k) * 10);
    const set = k === 0 ? p.topLabels : p.labels;
    if (set.includes(v)) return (v / 10).toFixed(1);
  }
  return null;
};

const BottomTick = (props: any) => {
  const { x, y, payload } = props;
  const major = xLabels.includes(payload.value);
  return (
    <g>
      <line x1={x} y1={y} x2={x} y2={y + (major ? 5 : 3)} stroke={axisColor} strokeWidth={1} />
      {major && (
        <text x={x} y={y + 14} textAnchor="middle" fontSize={13} fontFamily={font} fill={textColor}>
          {payload.value}
        </text>
      )}
    </g>
  );
};

const TopTick = (props: any) => {
  const { x, y, payload } = props;
  const major = xLabels.includes(payload.value);
  return <line x1={x} y1={y} x2={x} y2={y - (major ? 5 : 3)} stroke={axisColor} strokeWidth={1} />;
};

const makeLeftTick = (p: Panel) => (props: any) => {
  const { x, y, payload } = props;
  const label = yLabelFor(p, payload.value);
  return (
    <g>
      <line x1={x - (label ? 5 : 3)} y1={y} x2={x} y2={y} stroke={axisColor} strokeWidth={1} />
      {label && (
        <text x={x - 7} y={y} dy="0.36em" textAnchor="end" fontSize={13} fontFamily={font} fill={textColor}>
          {label}
        </text>
      )}
    </g>
  );
};

const makeRightTick = (p: Panel) => (props: any) => {
  const { x, y, payload } = props;
  const label = yLabelFor(p, payload.value);
  return <line x1={x} y1={y} x2={x + (label ? 5 : 3)} y2={y} stroke={axisColor} strokeWidth={1} />;
};

const SpectraPanel = ({ p }: { p: Panel }) => {
  const yTicks = yTicksFor(p);
  const axisLine = { stroke: axisColor, strokeWidth: 1.3 };
  return (
    <div style={{ position: 'absolute', left: p.left - Y_AXIS_W, top: BOX_TOP - PAD }}>
      <LineChart
        width={Y_AXIS_W + BOX_W + 1 + PAD}
        height={PAD + BOX_H + 30}
        margin={{ top: PAD - 1, right: PAD, bottom: 0, left: 0 }}
        style={{ overflow: 'visible' }}
      >
        <XAxis xAxisId="b" type="number" dataKey="x" domain={[157, 2200]} ticks={xTicks} interval={0}
          tickSize={0} tickMargin={0} tick={BottomTick} height={30} axisLine={axisLine} allowDataOverflow />
        <XAxis xAxisId="t" orientation="top" type="number" dataKey="x" domain={[157, 2200]} ticks={xTicks} interval={0}
          tickSize={0} tickMargin={0} tick={TopTick} height={1} axisLine={axisLine} allowDataOverflow />
        <YAxis yAxisId="l" type="number" domain={[p.yMin, p.yMax]} ticks={yTicks} interval={0}
          tickSize={0} tickMargin={0} tick={makeLeftTick(p)} width={Y_AXIS_W} axisLine={axisLine} allowDataOverflow />
        <YAxis yAxisId="r" orientation="right" type="number" domain={[p.yMin, p.yMax]} ticks={yTicks} interval={0}
          tickSize={0} tickMargin={0} tick={makeRightTick(p)} width={1} axisLine={axisLine} allowDataOverflow />
        {(p.faint || []).map((f, k) =>
          f ? (
            <Line key={`f${k}`} xAxisId="b" yAxisId="l" data={shift(f, k, p.offset)} dataKey="y" type="linear"
              stroke="#b4dcc3" strokeWidth={1.6} dot={false} activeDot={false} isAnimationActive={false} />
          ) : null
        )}
        {p.series.map((s, k) => (
          <Line key={`s${k}`} xAxisId="b" yAxisId="l" data={shift(s, k, p.offset)} dataKey="y" type="linear"
            stroke={p.color} strokeWidth={1.6} dot={false} activeDot={false} isAnimationActive={false} />
        ))}
      </LineChart>
    </div>
  );
};

// vertical positions of the cluster-size labels next to the anion panel
const sizeLabelY = [102, 202, 305, 419, 543, 653];

export default function App() {
  return (
    <div style={{ position: 'absolute', left: 0, top: 0, width: 939, height: 727, background: '#fff', fontFamily: font }}>
      {panels.map((p) => (
        <SpectraPanel key={p.id} p={p} />
      ))}
      <svg width={939} height={727} style={{ position: 'absolute', left: 0, top: 0, pointerEvents: 'none' }}>
        <text x={10} y={35} fontSize={25} fontFamily={font} fill={textColor}>
          Nb<tspan fontSize={15} dy={6}>n</tspan><tspan dy={-6}>-CO</tspan>
        </text>
        <text x={219.5} y={31} textAnchor="middle" fontSize={25} fontFamily={font} fill={textColor}>anions</text>
        <text x={498} y={31} textAnchor="middle" fontSize={25} fontFamily={font} fill={textColor}>neutrals</text>
        <text x={797} y={31} textAnchor="middle" fontSize={25} fontFamily={font} fill={textColor}>cations</text>
        {clusterSizes.map((n, i) => (
          <text key={n} transform={`translate(78, ${sizeLabelY[i]}) rotate(-90)`} textAnchor="middle"
            fontSize={25} fontFamily={font} fill={textColor}>{n}</text>
        ))}
        <text transform="translate(38, 360) rotate(-90)" textAnchor="middle" fontSize={25} fontFamily={font} fill={textColor}>
          Relative Ion Yield
        </text>
        <text x={519} y={722} textAnchor="middle" fontSize={26} fontFamily={font} fill={textColor}>
          Wavenumber (cm<tspan fontSize={15} dy={-11}>-1</tspan><tspan dy={11}>)</tspan>
        </text>
      </svg>
    </div>
  );
}
